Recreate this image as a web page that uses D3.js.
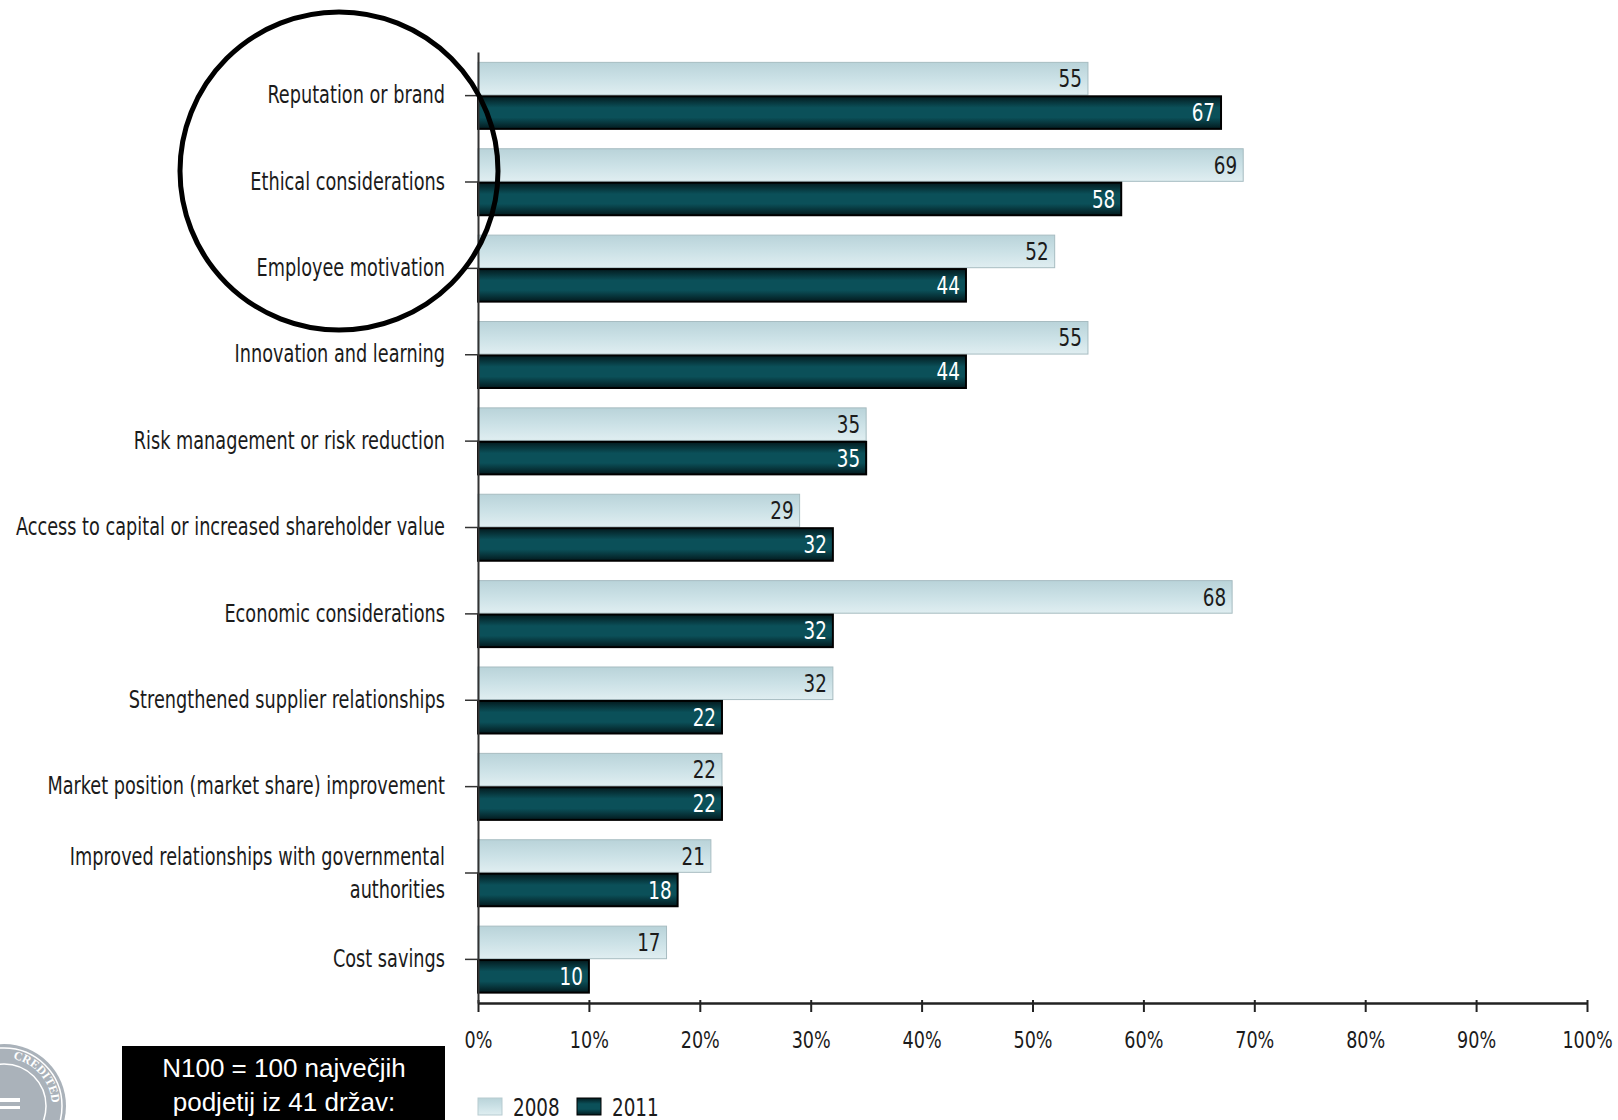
<!DOCTYPE html>
<html>
<head>
<meta charset="utf-8">
<script src="https://cdn.jsdelivr.net/npm/d3@7"></script>
<style>
  body { margin: 0; background: #fff; }
  .cond { font-family: "Liberation Sans Narrow", "DejaVu Sans Condensed", sans-serif; }
</style>
</head>
<body>
<div id="chart"></div>
<script>
const categories = [
  "Reputation or brand",
  "Ethical considerations",
  "Employee motivation",
  "Innovation and learning",
  "Risk management or risk reduction",
  "Access to capital or increased shareholder value",
  "Economic considerations",
  "Strengthened supplier relationships",
  "Market position (market share) improvement",
  "Improved relationships with governmental authorities",
  "Cost savings"
];
const years = ["2008", "2011"];
const values2008 = [55, 69, 52, 55, 35, 29, 68, 32, 22, 21, 17];
const values2011 = [67, 58, 44, 44, 35, 32, 32, 22, 22, 18, 10];
const xTicks = [0, 10, 20, 30, 40, 50, 60, 70, 80, 90, 100];
const noteLines = ["N100 = 100 največjih", "podjetij iz 41 držav:"];

const rows = categories.map((c, i) => ({
  category: c,
  values: [
    { year: "2008", value: values2008[i] },
    { year: "2011", value: values2011[i] }
  ]
}));

const W = 1618, H = 1120;
const squeeze = 0.82; // the original uses a very narrow face

const svg = d3.select("#chart").append("svg")
  .attr("width", W)
  .attr("height", H);

svg.append("rect").attr("width", W).attr("height", H).attr("fill", "#fff");

const defs = svg.append("defs");
const gLight = defs.append("linearGradient").attr("id", "gLight")
  .attr("x1", 0).attr("y1", 0).attr("x2", 0).attr("y2", 1);
gLight.append("stop").attr("offset", "0%").attr("stop-color", "#b9d3d9");
gLight.append("stop").attr("offset", "50%").attr("stop-color", "#cbe1e6");
gLight.append("stop").attr("offset", "100%").attr("stop-color", "#e0eef1");
const gDark = defs.append("linearGradient").attr("id", "gDark")
  .attr("x1", 0).attr("y1", 0).attr("x2", 0).attr("y2", 1);
gDark.append("stop").attr("offset", "0%").attr("stop-color", "#031a1e");
gDark.append("stop").attr("offset", "35%").attr("stop-color", "#0b5059");
gDark.append("stop").attr("offset", "65%").attr("stop-color", "#0b5059");
gDark.append("stop").attr("offset", "100%").attr("stop-color", "#031a1e");

const x = d3.scaleLinear().domain([0, 100]).range([478, 1587]);

const y0 = d3.scaleBand()
  .domain(categories)
  .range([52, 1003])
  .paddingInner(0.23)
  .paddingOuter(0.12);

const y1 = d3.scaleBand()
  .domain(years)
  .range([0, y0.bandwidth()])
  .paddingInner(0.04);

const color = d3.scaleOrdinal().domain(years).range(["url(#gLight)", "url(#gDark)"]);
const stroke = d3.scaleOrdinal().domain(years).range(["#a7bcc1", "#000"]);

// bars
const groups = svg.append("g").selectAll("g")
  .data(rows)
  .join("g")
  .attr("transform", d => `translate(0,${y0(d.category)})`);

groups.selectAll("rect")
  .data(d => d.values)
  .join("rect")
  .attr("x", x(0))
  .attr("y", d => y1(d.year))
  .attr("width", d => x(d.value) - x(0))
  .attr("height", y1.bandwidth())
  .attr("fill", d => color(d.year))
  .attr("stroke", d => stroke(d.year))
  .attr("stroke-width", d => d.year === "2011" ? 2 : 1);

groups.selectAll("text")
  .data(d => d.values)
  .join("text")
  .attr("class", "cond")
  .attr("transform", d => `translate(${x(d.value) - 6},${y1(d.year) + y1.bandwidth() / 2}) scale(0.85,1)`)
  .attr("dy", "0.36em")
  .attr("text-anchor", "end")
  .style("font-size", "24px")
  .attr("fill", d => d.year === "2011" ? "#fff" : "#1b1b1b")
  .text(d => d.value);

// x axis
const xAxis = svg.append("g")
  .attr("transform", `translate(0,1003)`)
  .call(d3.axisBottom(x)
    .tickValues(xTicks)
    .tickFormat(d => d + "%")
    .tickSizeInner(9)
    .tickSizeOuter(0)
    .tickPadding(20));
xAxis.select(".domain").attr("stroke", "#222").attr("stroke-width", 2.5);
xAxis.selectAll(".tick line").attr("stroke", "#222").attr("stroke-width", 2).attr("y1", -3);
xAxis.selectAll("text")
  .attr("class", "cond")
  .style("font-size", "23px")
  .attr("fill", "#1b1b1b")
  .attr("transform", "scale(0.85,1)")
  .attr("x", 0);
xAxis.selectAll(".tick").each(function () {
  // keep the labels centred on their ticks after squeezing
  d3.select(this).select("text").attr("transform", "translate(0,0) scale(0.85,1)");
});

// y axis
const labelX = -33;
const yAxis = svg.append("g")
  .attr("transform", `translate(${x(0)},0)`)
  .call(d3.axisLeft(y0)
    .tickSizeInner(13)
    .tickSizeOuter(0)
    .tickPadding(20));
yAxis.select(".domain").attr("stroke", "#333").attr("stroke-width", 2);
yAxis.selectAll(".tick line").attr("stroke", "#333").attr("stroke-width", 1.5);
yAxis.selectAll("text")
  .attr("class", "cond")
  .style("font-size", "24px")
  .attr("fill", "#1b1b1b")
  .attr("x", labelX / squeeze)
  .attr("transform", `scale(${squeeze},1)`)
  .each(function (d) {
    const t = d3.select(this);
    if (this.getComputedTextLength() * squeeze > 445) {
      const words = d.split(" ");
      const last = words.pop();
      t.text(null);
      t.append("tspan").attr("x", labelX / squeeze).attr("dy", "-0.32em").text(words.join(" "));
      t.append("tspan").attr("x", labelX / squeeze).attr("dy", "1.35em").text(last);
    }
  });

// legend
const legend = svg.append("g").attr("transform", "translate(478,1098)");
const lx = d3.scaleBand().domain(years).range([0, 198]);
years.forEach(yr => {
  const g = legend.append("g").attr("transform", `translate(${lx(yr)},0)`);
  g.append("rect")
    .attr("width", 24).attr("height", 17)
    .attr("fill", color(yr))
    .attr("stroke", yr === "2011" ? "#000" : "#b7cbd0");
  g.append("text")
    .attr("class", "cond")
    .attr("transform", "translate(35,9) scale(0.85,1)")
    .attr("dy", "0.36em")
    .style("font-size", "24px")
    .attr("fill", "#1b1b1b")
    .text(yr);
});

// highlight circle
svg.append("circle")
  .attr("cx", 339).attr("cy", 171).attr("r", 159)
  .attr("fill", "none")
  .attr("stroke", "#000")
  .attr("stroke-width", 5);

// note box
svg.append("rect")
  .attr("x", 122).attr("y", 1046)
  .attr("width", 323).attr("height", 74)
  .attr("fill", "#000");
svg.append("g").selectAll("text")
  .data(noteLines)
  .join("text")
  .attr("x", 284)
  .attr("y", (d, i) => 1068 + i * 34)
  .attr("dy", "0.36em")
  .attr("text-anchor", "middle")
  .style("font-family", "'Liberation Sans', Arial, sans-serif")
  .style("font-size", "26px")
  .attr("fill", "#fff")
  .text(d => d);

// seal in the corner
const seal = svg.append("g").attr("transform", "translate(4,1106)");
seal.append("circle").attr("r", 62).attr("fill", "#aab2ba");
seal.append("circle").attr("r", 58).attr("fill", "none").attr("stroke", "#fff").attr("stroke-width", 1.5);
seal.append("circle").attr("r", 42).attr("fill", "none").attr("stroke", "#fff").attr("stroke-width", 1.5);
seal.append("path").attr("id", "sealArc")
  .attr("d", "M -48 0 A 48 48 0 0 1 48 0")
  .attr("fill", "none");
seal.append("text")
  .style("font-family", "'Liberation Serif', serif")
  .style("font-size", "12px")
  .style("font-weight", "bold")
  .attr("fill", "#fff")
  .append("textPath")
  .attr("href", "#sealArc")
  .attr("startOffset", "56%")
  .text("CREDITED");
seal.append("rect").attr("x", -30).attr("y", -8).attr("width", 46).attr("height", 4).attr("fill", "#fff");
seal.append("rect").attr("x", -30).attr("y", 0).attr("width", 46).attr("height", 3).attr("fill", "#fff");
</script>
</body>
</html>
